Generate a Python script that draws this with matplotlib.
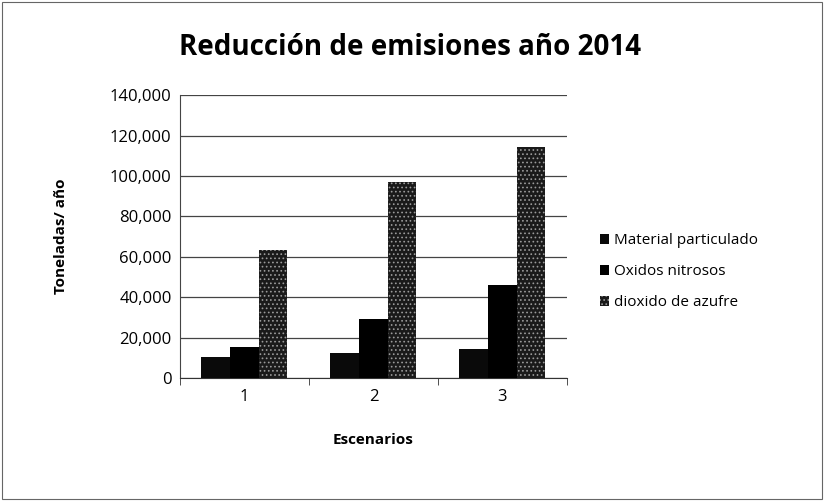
import numpy as np
import matplotlib.pyplot as plt
from matplotlib.patches import Rectangle

plt.rcParams['font.family'] = ['Open Sans', 'DejaVu Sans']
plt.rcParams['hatch.linewidth'] = 0.7

# Data
escenarios = ['1', '2', '3']
material_particulado = [10400, 12400, 14400]
oxidos_nitrosos = [15300, 29200, 46000]
dioxido_azufre = [63400, 97000, 114300]
series_labels = ['Material particulado', 'Oxidos nitrosos', 'dioxido de azufre']

fig = plt.figure(figsize=(8.24, 5.01), dpi=100)
ax = fig.add_axes([0.2184, 0.2455, 0.4696, 0.5645])

x = np.arange(len(escenarios))
w = 1 / 4.5  # Excel gap width 150%
ax.bar(x - w, material_particulado, w, color='#0a0a0a', label=series_labels[0], zorder=3)
ax.bar(x, oxidos_nitrosos, w, color='#000000', label=series_labels[1], zorder=3)
ax.bar(x + w, dioxido_azufre, w, facecolor='#1a1a1a', hatch='....', edgecolor='#9a9a9a',
       linewidth=0, label=series_labels[2], zorder=3)

ax.set_xlim(-0.5, 2.5)
ax.set_ylim(0, 140000)
ax.set_yticks(np.arange(0, 140001, 20000))
ax.yaxis.set_major_formatter(plt.FuncFormatter(lambda v, p: f'{int(v):,}'))
ax.set_xticks(x)
ax.set_xticklabels(escenarios)
ax.set_xticks([-0.5, 0.5, 1.5, 2.5], minor=True)
ax.tick_params(axis='x', which='major', length=0, pad=8, labelsize=12)
ax.tick_params(axis='x', which='minor', length=5, color='#333')
ax.tick_params(axis='y', length=0, pad=6, labelsize=12)

ax.grid(axis='y', color='#444', linewidth=0.9, zorder=0)
for s in ['top', 'right']:
    ax.spines[s].set_visible(False)
ax.spines['left'].set_color('#444')
ax.spines['bottom'].set_color('#333')

ax.set_xlabel('Escenarios', fontsize=11, fontweight='bold', labelpad=20)
ax.set_ylabel('Toneladas/ año', fontsize=11, fontweight='bold', labelpad=30)
fig.text(0.497, 0.905, 'Reducción de emisiones año 2014', ha='center', va='center',
         fontsize=20, fontweight='bold')

ax.legend(loc='center left', bbox_to_anchor=(1.05, 0.375), frameon=False, fontsize=11,
          handlelength=0.6, handleheight=0.6, handletextpad=0.3, labelspacing=1.05)

fig.patches.append(Rectangle((0.003, 0.004), 0.994, 0.992, transform=fig.transFigure,
                             fill=False, edgecolor='#666', linewidth=0.8))

fig.savefig('out.png', dpi=100)
